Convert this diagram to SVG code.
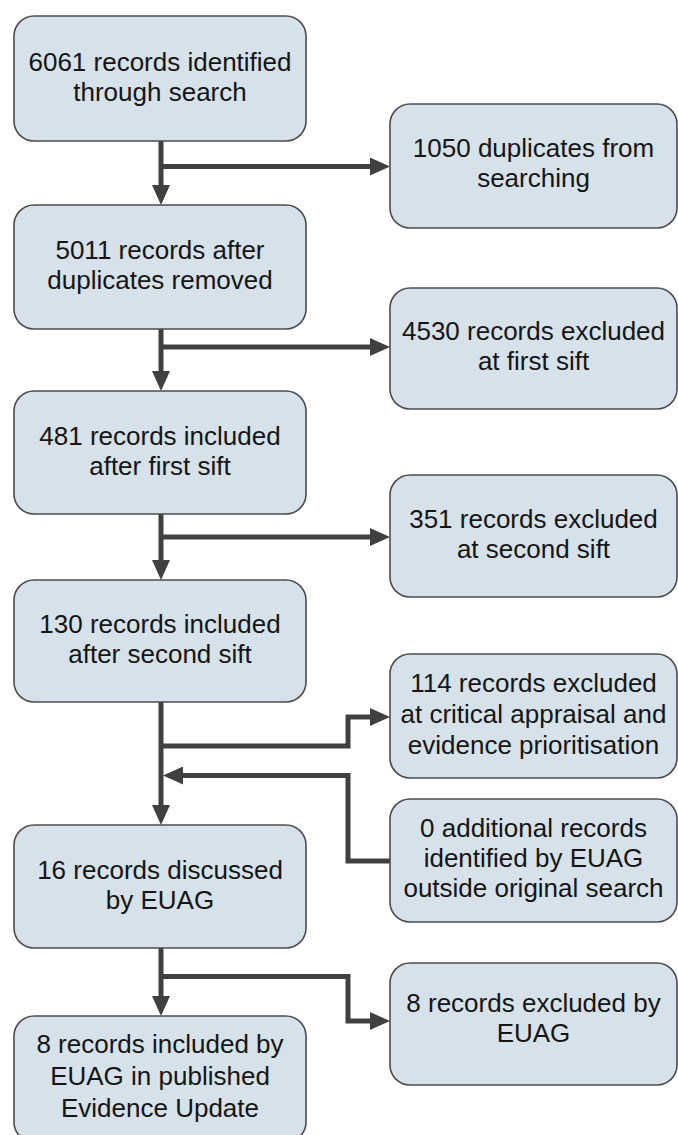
<svg xmlns="http://www.w3.org/2000/svg" width="678" height="1135" viewBox="0 0 678 1135">
<style>
.box{fill:#d6e1ea;stroke:#4d4d4d;stroke-width:1.6}
.t{font-family:"Liberation Sans",Arial,sans-serif;font-size:26px;fill:#151515;text-anchor:middle}
.c{fill:none;stroke:#404040;stroke-width:5;stroke-linejoin:miter}
</style>
<defs>
<marker id="ah" markerUnits="userSpaceOnUse" markerWidth="20" markerHeight="18" viewBox="0 0 20 18" refX="0" refY="9" orient="auto">
<path d="M0,0 L20,9 L0,18 z" fill="#404040"/>
</marker>
</defs>
<rect width="678" height="1135" fill="#ffffff"/>
<g id="connectors">
<path class="c" d="M161,141 V185" marker-end="url(#ah)"/>
<path class="c" d="M161,166.5 H370" marker-end="url(#ah)"/>
<path class="c" d="M161,329 V371" marker-end="url(#ah)"/>
<path class="c" d="M161,347 H370" marker-end="url(#ah)"/>
<path class="c" d="M161,514 V560" marker-end="url(#ah)"/>
<path class="c" d="M161,537 H370" marker-end="url(#ah)"/>
<path class="c" d="M161,702 V805" marker-end="url(#ah)"/>
<path class="c" d="M161,746 H348 V717 H370" marker-end="url(#ah)"/>
<path class="c" d="M390,861 H348 V775.5 H183" marker-end="url(#ah)"/>
<path class="c" d="M161,948 V996" marker-end="url(#ah)"/>
<path class="c" d="M161,976.5 H348 V1021 H370" marker-end="url(#ah)"/>
</g>
<g id="n1"><rect class="box" x="14" y="16" width="292" height="125" rx="20"/>
<text class="t" x="160" y="71">6061 records identified</text><text class="t" x="160" y="101">through search</text></g>
<g id="n2"><rect class="box" x="14" y="205" width="292" height="124" rx="20"/>
<text class="t" x="160" y="259">5011 records after</text><text class="t" x="160" y="289">duplicates removed</text></g>
<g id="n3"><rect class="box" x="14" y="391" width="292" height="123" rx="20"/>
<text class="t" x="160" y="445">481 records included</text><text class="t" x="160" y="475">after first sift</text></g>
<g id="n4"><rect class="box" x="14" y="580" width="292" height="122" rx="20"/>
<text class="t" x="160" y="633">130 records included</text><text class="t" x="160" y="663">after second sift</text></g>
<g id="n5"><rect class="box" x="14" y="825" width="292" height="123" rx="20"/>
<text class="t" x="160" y="879">16 records discussed</text><text class="t" x="160" y="909">by EUAG</text></g>
<g id="n6"><rect class="box" x="14" y="1016" width="292" height="126" rx="20"/>
<text class="t" x="160" y="1053">8 records included by</text><text class="t" x="160" y="1085">EUAG in published</text><text class="t" x="160" y="1117">Evidence Update</text></g>
<g id="r1"><rect class="box" x="390" y="104" width="287" height="124" rx="20"/>
<text class="t" x="533.5" y="157">1050 duplicates from</text><text class="t" x="533.5" y="187">searching</text></g>
<g id="r2"><rect class="box" x="390" y="288" width="287" height="121" rx="20"/>
<text class="t" x="533.5" y="340">4530 records excluded</text><text class="t" x="533.5" y="370">at first sift</text></g>
<g id="r3"><rect class="box" x="390" y="475" width="287" height="122" rx="20"/>
<text class="t" x="533.5" y="528">351 records excluded</text><text class="t" x="533.5" y="558">at second sift</text></g>
<g id="r4"><rect class="box" x="390" y="654" width="287" height="124" rx="20"/>
<text class="t" x="533.5" y="692">114 records excluded</text><text class="t" x="533.5" y="723">at critical appraisal and</text><text class="t" x="533.5" y="754">evidence prioritisation</text></g>
<g id="r5"><rect class="box" x="390" y="799" width="287" height="123" rx="20"/>
<text class="t" x="533.5" y="837">0 additional records</text><text class="t" x="533.5" y="867">identified by EUAG</text><text class="t" x="533.5" y="897">outside original search</text></g>
<g id="r6"><rect class="box" x="390" y="963" width="287" height="122" rx="20"/>
<text class="t" x="533.5" y="1012">8 records excluded by</text><text class="t" x="533.5" y="1042">EUAG</text></g>
</svg>
